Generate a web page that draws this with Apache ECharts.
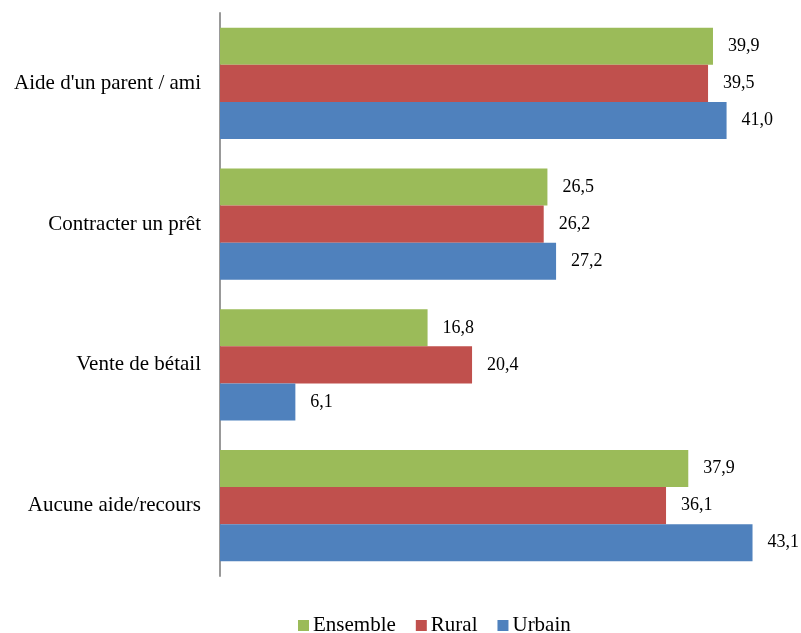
<!DOCTYPE html>
<html>
<head>
<meta charset="utf-8">
<script src="https://cdn.jsdelivr.net/npm/echarts@6/dist/echarts.min.js"></script>
<style>
  html, body { margin: 0; padding: 0; background: #fff; }
  #chart { width: 801px; height: 633px; }
</style>
</head>
<body>
<div id="chart"></div>
<script>
const categories = ["Aide d'un parent / ami", 'Contracter un prêt', 'Vente de bétail', 'Aucune aide/recours'];
const ensemble = [39.9, 26.5, 16.8, 37.9];
const rural = [39.5, 26.2, 20.4, 36.1];
const urbain = [41.0, 27.2, 6.1, 43.1];

const font = 'Liberation Serif';

function makeSeries(name, data, color) {
    return {
        type: 'bar',
        name: name,
        data: data,
        barGap: 0,
        barCategoryGap: '21%',
        itemStyle: { color: color },
        label: {
            show: true,
            position: 'right',
            distance: 15,
            color: '#000',
            fontFamily: font,
            fontSize: 18,
            formatter: p => p.value.toFixed(1).replace('.', ',')
        }
    };
}

const chart = echarts.init(document.getElementById('chart'));
chart.setOption({
    animation: false,
    grid: { left: 220, top: 13, width: 556, bottom: 57 },
    legend: {
        top: 610,
        left: 293,
        itemWidth: 11,
        itemHeight: 11,
        itemGap: 20,
        icon: 'rect',
        textStyle: { fontFamily: font, fontSize: 21, color: '#000', padding: [0, 0, 0, -1] },
        data: ['Ensemble', 'Rural', 'Urbain']
    },
    xAxis: { type: 'value', min: 0, max: 45, show: false },
    yAxis: {
        type: 'category',
        data: categories,
        inverse: true,
        axisLine: { lineStyle: { color: '#999', width: 2 } },
        axisTick: { show: false },
        axisLabel: { fontFamily: font, fontSize: 21, color: '#000', margin: 19 }
    },
    series: [
        makeSeries('Ensemble', ensemble, '#9BBB59'),
        makeSeries('Rural', rural, '#C0504D'),
        makeSeries('Urbain', urbain, '#4F81BD')
    ]
});
</script>
</body>
</html>
